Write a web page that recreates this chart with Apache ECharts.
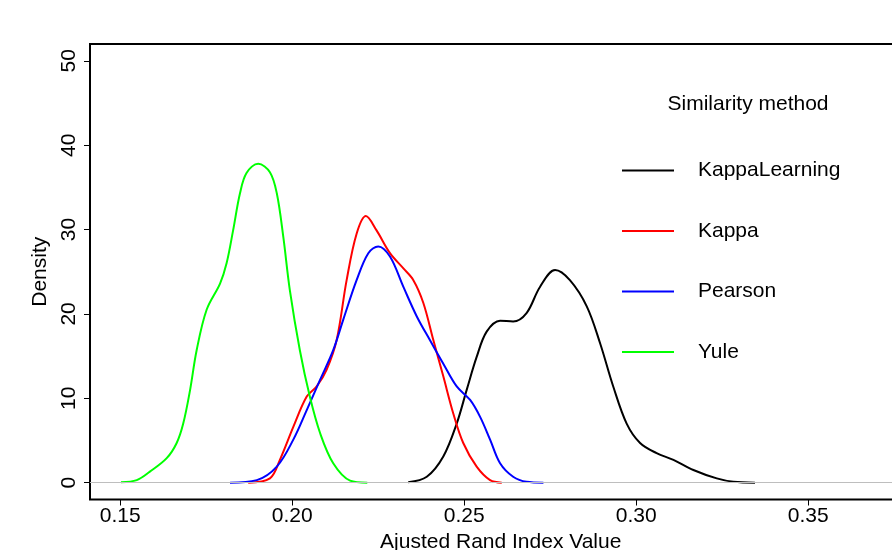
<!DOCTYPE html>
<html>
<head>
<meta charset="utf-8">
<script src="https://cdn.jsdelivr.net/npm/echarts@6/dist/echarts.min.js"></script>
<style>html,body{margin:0;padding:0;background:#fff}#c{width:892px;height:550px}</style>
</head>
<body>
<div id="c"></div>
<script>
const seriesNames = ['KappaLearning', 'Kappa', 'Pearson', 'Yule'];
const seriesColors = ['#000000', '#ff0000', '#0000ff', '#00ff00'];

const kappaLearningX = [0.2337, 0.2391, 0.2439, 0.2478, 0.2507, 0.2536, 0.2565, 0.2604, 0.2642, 0.2681, 0.2720, 0.2764, 0.2807, 0.2856, 0.2895, 0.2933, 0.2972, 0.3011, 0.3059, 0.3108, 0.3166, 0.3234, 0.3282, 0.3345];
const kappaLearningY = [0.05, 0.7, 3.1, 7.0, 11.0, 14.9, 17.9, 19.2, 19.1, 20.1, 23.2, 25.2, 24.0, 20.9, 16.5, 11.4, 7.0, 4.7, 3.5, 2.7, 1.5, 0.5, 0.1, 0.0];

const kappaX = [0.1872, 0.1935, 0.1964, 0.2003, 0.2042, 0.2071, 0.2100, 0.2129, 0.2158, 0.2187, 0.2214, 0.2245, 0.2284, 0.2323, 0.2352, 0.2381, 0.2410, 0.2439, 0.2468, 0.2497, 0.2536, 0.2575, 0.2609];
const kappaY = [0.0, 0.5, 2.7, 6.6, 10.2, 11.4, 13.4, 16.9, 24.0, 29.5, 31.6, 29.9, 27.2, 25.4, 24.0, 21.3, 16.9, 12.6, 8.2, 4.7, 1.9, 0.3, 0.0];

const pearsonX = [0.1819, 0.1897, 0.1955, 0.2003, 0.2042, 0.2081, 0.2119, 0.2148, 0.2187, 0.2221, 0.2250, 0.2284, 0.2323, 0.2362, 0.2400, 0.2439, 0.2478, 0.2517, 0.2546, 0.2575, 0.2604, 0.2642, 0.2681, 0.2730];
const pearsonY = [0.0, 0.3, 1.9, 5.1, 8.6, 12.2, 15.7, 19.3, 24.0, 27.2, 28.0, 26.8, 23.2, 19.7, 16.9, 14.1, 11.4, 9.8, 7.8, 5.1, 2.3, 0.7, 0.1, 0.0];

const yuleX = [0.1502, 0.1548, 0.1586, 0.1635, 0.1664, 0.1683, 0.1703, 0.1722, 0.1751, 0.1790, 0.1809, 0.1828, 0.1848, 0.1867, 0.1901, 0.1935, 0.1955, 0.1974, 0.1993, 0.2022, 0.2051, 0.2081, 0.2119, 0.2168, 0.2218];
const yuleY = [0.05, 0.3, 1.3, 2.9, 4.7, 7.0, 11.0, 15.7, 20.5, 23.6, 26.0, 29.9, 34.3, 36.7, 37.8, 36.8, 34.3, 29.1, 22.8, 15.7, 10.2, 5.85, 2.3, 0.24, 0.0];

const xTicks = [0.15, 0.20, 0.25, 0.30, 0.35];
const yTicks = [0, 10, 20, 30, 40, 50];

const xsList = [kappaLearningX, kappaX, pearsonX, yuleX];
const ysList = [kappaLearningY, kappaY, pearsonY, yuleY];

const FONT = '"Liberation Sans", Arial, sans-serif';
const chart = echarts.init(document.getElementById('c'), null, {renderer: 'canvas'});

const curveSeries = seriesNames.map((name, i) => ({
  name: name,
  type: 'line',
  data: xsList[i].map((x, j) => [x, ysList[i][j]]),
  showSymbol: false,
  symbol: 'none',
  smooth: 0.35,
  z: 3,
  lineStyle: {color: seriesColors[i], width: 2},
  itemStyle: {color: seriesColors[i]},
  silent: true
}));

const baseline = {
  name: 'baseline',
  type: 'line',
  data: [],
  z: 1,
  silent: true,
  markLine: {
    silent: true,
    symbol: ['none', 'none'],
    label: {show: false},
    lineStyle: {color: '#bebebe', width: 1, type: 'solid'},
    emphasis: {disabled: true},
    data: [{yAxis: 0}]
  }
};

chart.setOption({
  animation: false,
  backgroundColor: '#ffffff',
  textStyle: {fontFamily: FONT},
  title: {
    text: 'Similarity method',
    left: 748,
    top: 93.5,
    textAlign: 'center',
    padding: 0,
    textStyle: {fontFamily: FONT, fontSize: 21, fontWeight: 'normal', color: '#000'}
  },
  legend: {
    data: seriesNames,
    orient: 'vertical',
    left: 622,
    top: 158.5,
    padding: 0,
    icon: 'rect',
    itemWidth: 52,
    itemHeight: 2,
    itemGap: 36.5,
    selectedMode: false,
    textStyle: {fontFamily: FONT, fontSize: 21, color: '#000', lineHeight: 24, padding: [0, 0, 0, 19]}
  },
  grid: {
    left: 90, top: 44, right: -19.5, bottom: 50.5,
    show: true, borderColor: '#000', borderWidth: 2,
    containLabel: false, outerBoundsMode: 'none'
  },
  xAxis: {
    type: 'value',
    min: 0.1412, max: 0.38,
    name: 'Ajusted Rand Index Value',
    nameLocation: 'middle',
    nameGap: 30,
    nameTextStyle: {fontFamily: FONT, fontSize: 21, color: '#000'},
    axisLine: {show: false, onZero: false},
    splitLine: {show: false},
    axisTick: {show: true, length: 6, customValues: xTicks, lineStyle: {color: '#000', width: 1}},
    axisLabel: {show: true, customValues: xTicks, margin: 6, fontFamily: FONT, fontSize: 21, color: '#000',
      formatter: v => v.toFixed(2)}
  },
  yAxis: {
    type: 'value',
    min: -2, max: 52,
    name: 'Density',
    nameLocation: 'middle',
    nameGap: 37,
    nameTextStyle: {fontFamily: FONT, fontSize: 21, color: '#000'},
    axisLine: {show: false, onZero: false},
    splitLine: {show: false},
    axisTick: {show: true, length: 6, customValues: yTicks, lineStyle: {color: '#000', width: 1}},
    axisLabel: {show: true, customValues: yTicks, rotate: 90, margin: 10, fontFamily: FONT, fontSize: 21, color: '#000'}
  },
  series: [baseline].concat(curveSeries)
});
</script>
</body>
</html>
